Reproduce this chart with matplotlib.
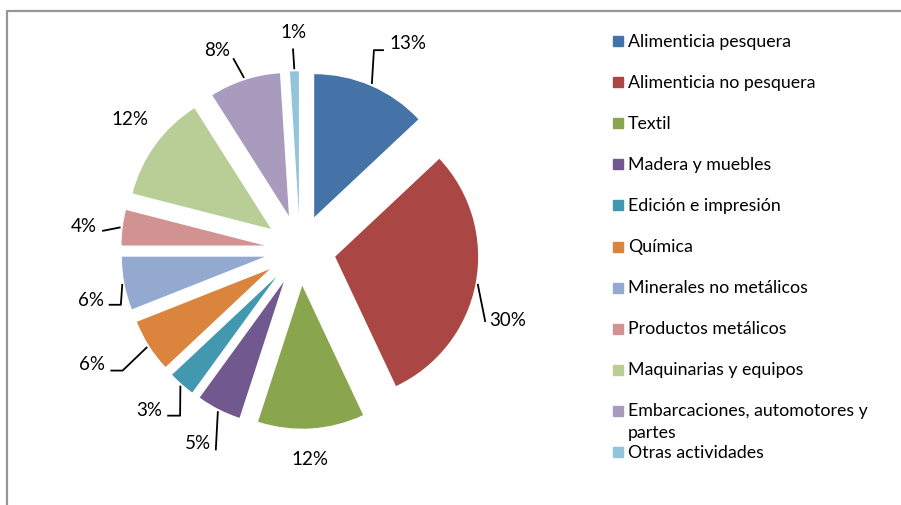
import numpy as np
import matplotlib.pyplot as plt
from matplotlib.lines import Line2D
from matplotlib.patches import Rectangle

plt.rcParams['font.family'] = ['Lato', 'DejaVu Sans']

categories = ['Alimenticia pesquera', 'Alimenticia no pesquera', 'Textil', 'Madera y muebles',
              'Edición e impresión', 'Química', 'Minerales no metálicos', 'Productos metálicos',
              'Maquinarias y equipos', 'Embarcaciones, automotores y\npartes', 'Otras actividades']
values = [13, 30, 12, 5, 3, 6, 6, 4, 12, 8, 1]
colors = ['#4572A7', '#AA4643', '#89A54E', '#71588F', '#4198AF', '#DB843D',
          '#93A9CF', '#D19392', '#B9CD96', '#A99BBD', '#92C5D9']

# label placement (radius, angle offset from slice bisector)
lab_r = [1.63, 1.53, 1.47, 1.53, 1.54, 1.66, 1.50, 1.52, 1.50, 1.51, 1.52]
lab_da = [-4.3, -7.9, -0.9, -0.9, -1.9, -3.5, 2.7, 0.9, -1.4, 4.5, 0.0]
# leader lines: (radius of bend, angle offset, horizontal tail) or None
leaders = [(1.49, 3.1, 0.07), (1.39, -10.4, 0), None, (1.52, 4.2, 0), (1.43, 5.5, -0.09),
           (1.50, 1.8, -0.085), (1.31, 6.2, -0.085), (1.39, 1.7, 0), None, (1.42, 1.2, 0), (1.41, 0.2, 0)]

W, H = 901, 505
R = 143.0          # pie radius in px
cx, cy = 300, 250  # pie centre in px (from top)

fig = plt.figure(figsize=(W / 100, H / 100), dpi=100)
ax = fig.add_axes([0, 0, 1, 1])
wedges, _ = ax.pie(values, colors=colors, startangle=90, counterclock=False,
                   explode=[0.25] * len(values), radius=1, wedgeprops=dict(linewidth=0))
ax.set_xlim(-cx / R, (W - cx) / R)
ax.set_ylim(-(H - cy) / R, cy / R)
ax.set_aspect('auto')
ax.axis('off')

total = sum(values)
for i, w in enumerate(wedges):
    bis = (w.theta1 + w.theta2) / 2
    a = np.radians(bis + lab_da[i])
    ax.text(lab_r[i] * np.cos(a), lab_r[i] * np.sin(a), '{:.0f}%'.format(values[i] / total * 100),
            ha='center', va='center', fontsize=13.5, color='black')
    if leaders[i] is not None:
        rm, dam, tail = leaders[i]
        b = np.radians(bis)
        am = np.radians(bis + dam)
        xs = [1.265 * np.cos(b), rm * np.cos(am)]
        ys = [1.265 * np.sin(b), rm * np.sin(am)]
        if tail:
            xs.append(xs[-1] + tail)
            ys.append(ys[-1])
        ax.plot(xs, ys, color='black', lw=1.3, solid_capstyle='butt')

# legend drawn by hand
for i, name in enumerate(categories):
    y = 41 + 41.1 * i
    fig.patches.append(Rectangle((613 / W, 1 - (y + 5) / H), 10 / W, 10 / H,
                                 transform=fig.transFigure, color=colors[i]))
    fig.text(628 / W, 1 - (y - 7.5) / H, name, ha='left', va='top', fontsize=12.8,
             linespacing=1.45)

# chart border
fig.add_artist(Line2D([7 / W, 7 / W, 1], [0, 1 - 11 / H, 1 - 11 / H], transform=fig.transFigure,
                      color='#969696', lw=1.6))

fig.savefig('out.png', dpi=100)
